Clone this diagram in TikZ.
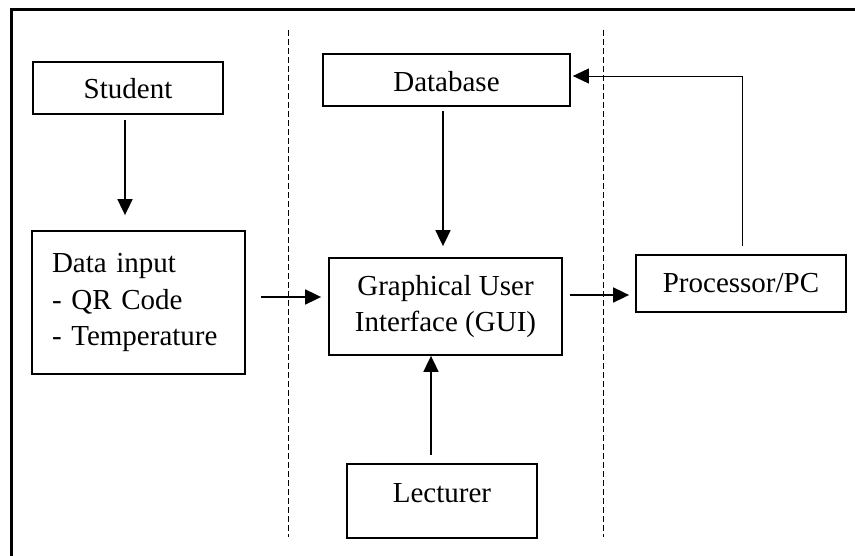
\documentclass[tikz,border=0pt]{standalone}
\usepackage{fontspec}
\setmainfont{Liberation Serif}
\usetikzlibrary{arrows.meta}
\begin{document}
\begin{tikzpicture}[x=1pt,y=-1pt,
  box/.style={draw, line width=1.8pt, inner sep=0pt, align=center,
    font=\fontsize{29}{36.5}\selectfont},
  arr/.style={line width=1.8pt, -{Triangle[length=16pt,width=15pt]}},
  thinarr/.style={line width=0.9pt, -{Triangle[length=16pt,width=15pt]}},
  sep/.style={line width=0.8pt, dash pattern=on 6pt off 3pt},
  frame/.style={line width=3pt}]
\useasboundingbox (0,0) rectangle (855,556);
% outer frame (top and left edges)
\draw[frame] (11,556) -- (11,10) -- (855,10);
% dashed separators
\draw[sep] (288,30) -- (288,537);
\draw[sep] (603,30) -- (603,537);
% boxes
\node[box, minimum width=190pt, text height=37pt, text depth=15pt] (stu) at (128,88) {Student};
\node[box, minimum height=143pt, text width=173pt, inner xsep=20pt, align=left] (din) at (138.5,302.5) {Data input\\- QR Code\\- Temperature};
\node[box, minimum width=247pt, text height=38pt, text depth=14pt] (db) at (446.5,80) {Database};
\node[box, minimum width=233pt, minimum height=97pt] (gui) at (445.5,306.5) {Graphical User\\Interface (GUI)};
\node[box, minimum width=210pt, text height=38pt, text depth=19pt] (pc) at (741,283.5) {Processor/PC};
\node[box, minimum width=190pt, text height=38pt, text depth=36pt] (lec) at (442,501) {Lecturer};
% connectors
\draw[arr] ([xshift=-3pt,yshift=-5pt]stu.south) -- ([xshift=-13.5pt,yshift=15pt]din.north);
\draw[arr] ([xshift=15pt,yshift=5.5pt]din.east) -- ([xshift=-7pt,yshift=9.5pt]gui.west);
\draw[arr] ([xshift=-3.5pt,yshift=-4pt]db.south) -- ([xshift=-2.5pt,yshift=11pt]gui.north);
\draw[arr] ([xshift=-11pt,yshift=8pt]lec.north) -- ([xshift=-14.5pt]gui.south);
\draw[arr] ([xshift=7pt,yshift=11.5pt]gui.east) -- ([xshift=-6pt,yshift=-11.5pt]pc.west);
\draw[thinarr] ([xshift=1pt,yshift=8pt]pc.north) |- ([xshift=2pt,yshift=4pt]db.east);
\end{tikzpicture}
\end{document}
